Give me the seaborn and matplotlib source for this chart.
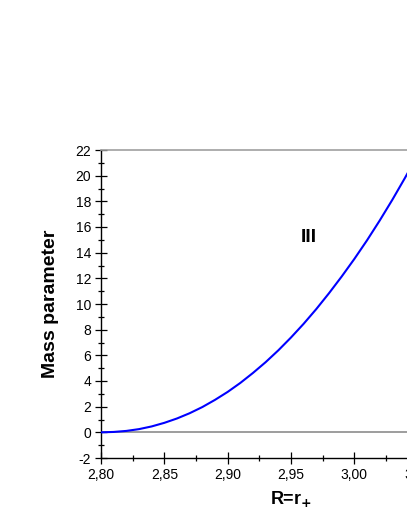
import numpy as np
import pandas as pd
import matplotlib
matplotlib.use("Agg")
import matplotlib.pyplot as plt
import seaborn as sns
from matplotlib.ticker import MultipleLocator, FuncFormatter

# radius values and mass parameter
radius = [2.80, 2.81, 2.82, 2.83, 2.84, 2.85, 2.86, 2.87, 2.88, 2.89,
          2.90, 2.91, 2.92, 2.93, 2.94, 2.95, 2.96, 2.97, 2.98, 2.99,
          3.00, 3.01, 3.02, 3.03, 3.04, 3.05]
mass = [0.0, 0.03, 0.11, 0.25, 0.46, 0.74, 1.08, 1.49, 1.97, 2.53,
        3.15, 3.85, 4.63, 5.47, 6.39, 7.39, 8.46, 9.61, 10.84, 12.14,
        13.51, 14.96, 16.5, 18.12, 19.83, 21.6]

region_label = "III"

sns.set_theme(style="white")
plt.rcParams["font.family"] = ["Liberation Sans", "DejaVu Sans"]
plt.rcParams["text.color"] = "black"
plt.rcParams["axes.labelcolor"] = "black"
plt.rcParams["xtick.color"] = "black"
plt.rcParams["ytick.color"] = "black"

df = pd.DataFrame({"R": radius, "M": mass})

fig = plt.figure(figsize=(4.07, 5.27), dpi=100)
ax = fig.add_axes([101 / 407, 69 / 527, 380 / 407, 308 / 527])

ax.axhline(0, color="#8c8c8c", lw=1.2, zorder=1)
sns.lineplot(data=df, x="R", y="M", color="#0000ff", lw=1.5, ax=ax, zorder=3)

ax.set_xlim(2.80, 3.10)
ax.set_ylim(-2, 22)

ax.xaxis.set_major_locator(MultipleLocator(0.05))
ax.xaxis.set_minor_locator(MultipleLocator(0.025))
ax.yaxis.set_major_locator(MultipleLocator(2))
ax.yaxis.set_minor_locator(MultipleLocator(1))
ax.xaxis.set_major_formatter(FuncFormatter(lambda v, p: f"{v:.2f}".replace(".", ",")))
ax.yaxis.set_major_formatter(FuncFormatter(lambda v, p: f"{v:.0f}"))

ax.tick_params(which="major", direction="inout", length=8, width=0.9,
               color="black", labelsize=10, pad=3)
ax.tick_params(which="minor", direction="inout", length=5, width=0.9,
               color="black")
ax.tick_params(axis="x", which="both", bottom=True)
ax.tick_params(axis="y", which="both", left=True)

for side in ["left", "bottom"]:
    ax.spines[side].set_color("black")
    ax.spines[side].set_linewidth(1.0)
ax.spines["top"].set_color("#a0a0a0")
ax.spines["top"].set_linewidth(1.2)
ax.spines["right"].set_visible(False)

ax.set_xlabel(r"R=r$_\mathbf{+}$", fontsize=13, fontweight="bold", labelpad=5)
ax.set_ylabel("Mass parameter", fontsize=14, fontweight="bold", labelpad=12)

ax.text(2.964, 15.2, region_label, fontsize=14, fontweight="bold",
        ha="center", va="center")

fig.savefig("out.png", dpi=100)
